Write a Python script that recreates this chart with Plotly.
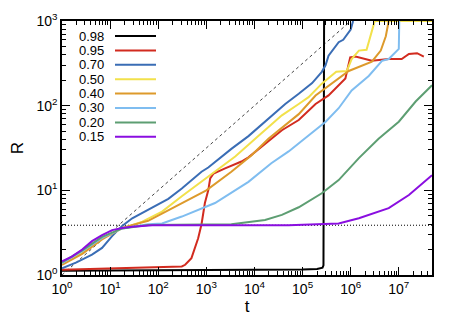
import plotly.graph_objects as go

# ---------------- data ----------------
labels = ["0.98", "0.95", "0.70", "0.50", "0.40", "0.30", "0.20", "0.15"]
colors = ["#000000", "#d22b1f", "#3a6db5", "#f2e14b", "#dd9a2b", "#7fbdf0", "#5d9e72", "#8a0ee0"]

t_098 = [1, 1000, 1e5, 2.0e5, 2.6e5, 2.72e5, 2.8e5]
R_098 = [1.12, 1.14, 1.16, 1.18, 1.22, 1.3, 1000]

t_095 = [1, 10, 100, 309, 363, 490, 676, 794, 933, 1096, 1202, 1413, 2455, 5370, 7500,
         16596, 37154, 83176, 186209, 346737, 562341, 776247, 977237, 1.259e6, 2.754e6,
         6.166e6, 1.148e7, 1.622e7, 2.399e7, 3.311e7]
R_095 = [1.15, 1.19, 1.23, 1.26, 1.32, 1.58, 2.72, 3.98, 7.08, 10, 13.8, 15.8, 18.2, 21.9, 24.5,
         35.5, 51.3, 67.6, 104.7, 132, 174, 209, 372, 380, 339, 355, 355, 407, 417, 380]

t_070 = [1, 2, 4.2, 6.8, 11, 17.8, 28.8, 61.7, 162, 309, 794, 1096, 3311, 7500, 19498,
         43652, 83176, 158000, 251189, 300000, 346737, 450000, 562341, 700000, 1e6, 1.122e6]
R_070 = [1.2, 1.41, 1.74, 2.09, 2.88, 3.8, 4.68, 5.89, 7.94, 10.5, 16.6, 18.6, 30.9, 43.7, 70.8,
         104.7, 138, 185, 251, 300, 389, 470, 562, 600, 794, 1000]

t_050 = [1, 2.63, 6.8, 17.8, 46.8, 120, 309, 1514, 3981, 12023, 37154, 83176, 133352,
         251189, 501187, 831764, 1.047e6, 1.479e6, 2.138e6, 3.02e6, 3.16e6, 4.9e7]
R_050 = [1.35, 1.82, 2.72, 3.55, 4.27, 5.6, 8.5, 16.6, 25.1, 43.7, 76.9, 104.7, 126,
         182, 251, 257, 355, 447, 457, 912, 1000, 1000]

t_040 = [1, 2.63, 6.8, 17.8, 61.7, 309, 1000, 3311, 8710, 19498, 51286, 83176, 186209,
         562341, 912011, 2.754e6, 4.217e6, 5.37e6, 6.166e6]
R_040 = [1.32, 1.78, 2.63, 3.6, 4.37, 7.08, 10, 16.6, 26, 40.7, 64.6, 79.4, 132,
         209, 257, 331, 447, 661, 1000]

t_030 = [1, 2.63, 6.8, 17.8, 61.7, 120, 309, 1514, 7500, 22387, 51286, 133352, 301995,
         562341, 1.047e6, 2.371e6, 4.467e6, 6.166e6, 1e7, 1.023e7]
R_030 = [1.38, 1.91, 2.75, 3.55, 3.98, 4.07, 4.9, 7.08, 12.6, 20.9, 28.8, 44.7, 64.6,
         93.3, 151, 224, 339, 355, 468, 1000]

t_020 = [1, 2.63, 6.8, 17.8, 61.7, 1000, 3311, 16596, 37154, 83176, 251189, 562341,
         1.479e6, 3.8e6, 1e7, 2.239e7, 4.9e7]
R_020 = [1.41, 1.95, 2.82, 3.55, 3.89, 3.94, 3.98, 4.47, 5.13, 6.31, 9.23, 13.2,
         24, 40.7, 64.6, 112, 174]

t_015 = [1, 1.6, 2.63, 4.2, 6.8, 11, 17.8, 28.8, 75, 1000, 10000, 51286, 562341,
         1.479e6, 6.166e6, 1.622e7, 4.9e7]
R_015 = [1.45, 1.65, 2.0, 2.51, 2.95, 3.39, 3.59, 3.72, 3.87, 3.87, 3.87, 3.88, 4.07,
         4.68, 6.17, 8.81, 15.1]

series_t = [t_098, t_095, t_070, t_050, t_040, t_030, t_020, t_015]
series_R = [R_098, R_095, R_070, R_050, R_040, R_030, R_020, R_015]

# reference lines
t_sqrt = [1, 1e6]
R_sqrt = [1, 1000]
t_plateau = [1, 4.9e7]
R_plateau = [3.87, 3.87]

x_decades = [0, 1, 2, 3, 4, 5, 6, 7]
y_decades = [0, 1, 2, 3]

# ---------------- figure ----------------
fig = go.Figure()
fig.add_trace(go.Scatter(x=t_sqrt, y=R_sqrt, mode="lines",
                         line=dict(color="#444444", width=1, dash="3px,3px"),
                         showlegend=False, hoverinfo="skip"))
fig.add_trace(go.Scatter(x=t_plateau, y=R_plateau, mode="lines",
                         line=dict(color="#000000", width=1, dash="1px,2px"),
                         showlegend=False, hoverinfo="skip"))
for lab, col, tt, rr in zip(labels, colors, series_t, series_R):
    fig.add_trace(go.Scatter(x=tt, y=rr, mode="lines", name=lab,
                             line=dict(color=col, width=2), showlegend=False))

# manual gnuplot-style key (text then sample)
L, R_, T, B = 54, 424, 13, 267
W, H = R_ - L, B - T
for i, (lab, col) in enumerate(zip(labels, colors)):
    py = 28 + 14.4 * i
    yp = (B - py) / H
    fig.add_annotation(x=(97 - L) / W, y=yp, xref="paper", yref="paper", text=lab,
                       showarrow=False, xanchor="right", yanchor="middle", borderpad=0,
                       font=dict(size=13, color="black"))
    fig.add_shape(type="line", xref="paper", yref="paper",
                  x0=(107 - L) / W, x1=(148 - L) / W, y0=yp, y1=yp,
                  line=dict(color=col, width=2))

minor_vals = []
for d in range(0, 8):
    for m in range(2, 10):
        minor_vals.append(m * 10 ** d)
minor_y = []
for d in range(0, 3):
    for m in range(2, 10):
        minor_y.append(m * 10 ** d)

font = dict(family="Liberation Sans, Arial, sans-serif", size=14, color="black")
fig.update_layout(
    width=450, height=314,
    margin=dict(l=L, r=450 - R_, t=T, b=314 - B, autoexpand=False),
    paper_bgcolor="white", plot_bgcolor="white",
    font=font, showlegend=False,
    xaxis=dict(type="log", range=[0, 7.69], automargin=False,
               tickmode="array", tickvals=[10 ** d for d in x_decades],
               ticktext=[f"10<sup>{d}</sup>" for d in x_decades],
               ticks="inside", ticklen=8, tickcolor="black", tickwidth=1,
               minor=dict(tickmode="array", tickvals=minor_vals, ticks="inside",
                          ticklen=4, tickcolor="black", showgrid=False),
               showline=True, linecolor="black", linewidth=1.5, mirror="allticks",
               showgrid=False, zeroline=False,
               title=dict(text="t", standoff=2)),
    yaxis=dict(type="log", range=[0, 3], automargin=False,
               tickmode="array", tickvals=[10 ** d for d in y_decades],
               ticktext=[f"10<sup>{d}</sup>" for d in y_decades],
               ticks="inside", ticklen=8, tickcolor="black", tickwidth=1,
               minor=dict(tickmode="array", tickvals=minor_y, ticks="inside",
                          ticklen=4, tickcolor="black", showgrid=False),
               showline=True, linecolor="black", linewidth=1.5, mirror="allticks",
               showgrid=False, zeroline=False,
               title=dict(text="R", standoff=12)),
)

fig.write_html("out.html")
